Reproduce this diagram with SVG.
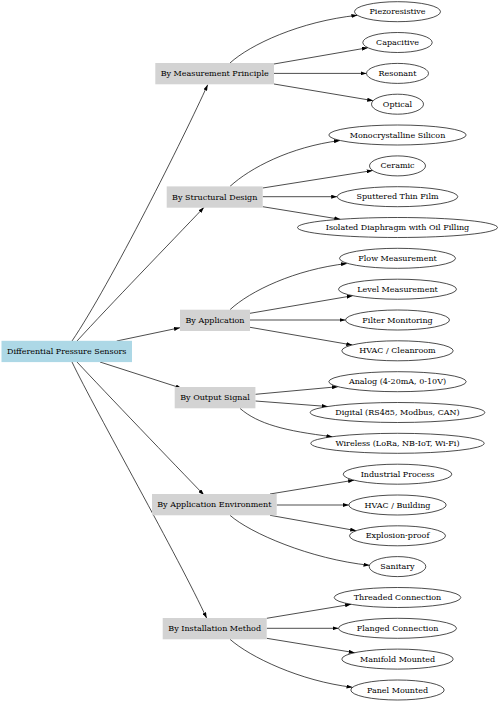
<svg xmlns="http://www.w3.org/2000/svg" width="500" height="703" viewBox="0 0 500 703">
<defs>
<style>
.bg{fill:#ffffff}
.root rect{fill:#add8e6;stroke:none}
.cat rect{fill:#d3d3d3;stroke:none}
.leaf ellipse{fill:#ffffff;stroke:#000;stroke-width:0.7}
text{font-family:"DejaVu Serif","Liberation Serif",serif;font-size:8px;fill:#000;text-anchor:middle;dominant-baseline:central}
#edges path{fill:none;stroke:#000;stroke-width:0.7;marker-end:url(#arr)}
</style>
<marker id="arr" markerUnits="userSpaceOnUse" markerWidth="6" markerHeight="4" refX="6" refY="2" orient="auto">
<path d="M0,0 L6,2 L0,4 z" fill="#000"/>
</marker>
</defs>
<rect class="bg" x="0" y="0" width="500" height="703"/>
<g id="edges">
<path d="M72,341 C110,285 185,135 207.7,84.7"/>
<path d="M77,341 C110,305 170,243 204,207.3"/>
<path d="M116.7,341 L180,327.7"/>
<path d="M100,362 L181.7,388.3"/>
<path d="M77,362 C105,392 175,465 204,495"/>
<path d="M72,362 C95,410 180,560 206.7,618.3"/>
<path d="M230,63 C250,44.7 300,21.3 357.4,15.3"/>
<path d="M274,64 L367.9,47.7"/>
<path d="M274,73.4 L366.5,73.4"/>
<path d="M274,84 L373.2,100.7"/>
<path d="M230,186.4 C250,168 290,147 340,140.5"/>
<path d="M262.7,188 L372.7,170.5"/>
<path d="M262.7,196.7 L337.2,196.7"/>
<path d="M262.7,206.7 L340.3,219.3"/>
<path d="M230,309.7 C250,291 295,269.5 347,263.5"/>
<path d="M250,313.3 L352.7,295.7"/>
<path d="M250,320 L345.5,320"/>
<path d="M250,327.3 L352.3,345"/>
<path d="M255.4,394.3 L338,386.7"/>
<path d="M255.4,401 L327.7,406.5"/>
<path d="M240,408.4 C258,424 285,431 332.4,436.7"/>
<path d="M270,494 L354.1,480.15"/>
<path d="M276.7,505 L348.8,505"/>
<path d="M270,515.3 L356.2,530.7"/>
<path d="M230,515.3 C250,533 310,559 369.5,565.3"/>
<path d="M266.7,618.3 L351.1,604.3"/>
<path d="M266.7,628.3 L338.5,628.3"/>
<path d="M266.7,638.3 L354.7,652.7"/>
<path d="M230,639.3 C250,657 300,681 352.5,687.3"/>
</g>
<g id="root" class="root"><rect x="1.5" y="340.8" width="130.5" height="21.3"/><text x="66.7" y="351.5">Differential Pressure Sensors</text></g>
<g id="cat-measurement" class="cat"><rect x="155.3" y="63" width="118.7" height="21.3"/><text x="214.7" y="73.7">By Measurement Principle</text></g>
<g id="cat-structural" class="cat"><rect x="166.7" y="186.4" width="96" height="21.3"/><text x="214.7" y="197">By Structural Design</text></g>
<g id="cat-application" class="cat"><rect x="180" y="309.7" width="70" height="21.3"/><text x="215" y="320.3">By Application</text></g>
<g id="cat-output" class="cat"><rect x="174.7" y="387" width="80.7" height="21.3"/><text x="215" y="397.7">By Output Signal</text></g>
<g id="cat-environment" class="cat"><rect x="152" y="494" width="124.7" height="21.3"/><text x="214.3" y="504.7">By Application Environment</text></g>
<g id="cat-installation" class="cat"><rect x="162.7" y="618" width="104" height="21.3"/><text x="214.7" y="628.7">By Installation Method</text></g>
<g id="leaf-piezoresistive" class="leaf"><ellipse cx="397.5" cy="11.7" rx="43" ry="10"/><text x="397.5" y="11.7">Piezoresistive</text></g>
<g id="leaf-capacitive" class="leaf"><ellipse cx="397.5" cy="42.5" rx="34.7" ry="10"/><text x="397.5" y="42.5">Capacitive</text></g>
<g id="leaf-resonant" class="leaf"><ellipse cx="397.5" cy="73.4" rx="31" ry="10"/><text x="397.5" y="73.4">Resonant</text></g>
<g id="leaf-optical" class="leaf"><ellipse cx="397.5" cy="104.2" rx="26" ry="10"/><text x="397.5" y="104.2">Optical</text></g>
<g id="leaf-mono" class="leaf"><ellipse cx="397.5" cy="135" rx="68.7" ry="10"/><text x="397.5" y="135">Monocrystalline Silicon</text></g>
<g id="leaf-ceramic" class="leaf"><ellipse cx="397.5" cy="165.9" rx="28" ry="10"/><text x="397.5" y="165.9">Ceramic</text></g>
<g id="leaf-sputtered" class="leaf"><ellipse cx="397.5" cy="196.7" rx="60.3" ry="10"/><text x="397.5" y="196.7">Sputtered Thin Film</text></g>
<g id="leaf-isolated" class="leaf"><ellipse cx="397.5" cy="227.5" rx="100" ry="10"/><text x="397.5" y="227.5">Isolated Diaphragm with Oil Filling</text></g>
<g id="leaf-flow" class="leaf"><ellipse cx="397.5" cy="258.3" rx="58" ry="10"/><text x="397.5" y="258.3">Flow Measurement</text></g>
<g id="leaf-level" class="leaf"><ellipse cx="397.5" cy="289.2" rx="59" ry="10"/><text x="397.5" y="289.2">Level Measurement</text></g>
<g id="leaf-filter" class="leaf"><ellipse cx="397.5" cy="320" rx="52" ry="10"/><text x="397.5" y="320">Filter Monitoring</text></g>
<g id="leaf-hvac-clean" class="leaf"><ellipse cx="397.5" cy="350.8" rx="55.7" ry="10"/><text x="397.5" y="350.8">HVAC / Cleanroom</text></g>
<g id="leaf-analog" class="leaf"><ellipse cx="397.5" cy="381.7" rx="68.7" ry="10"/><text x="397.5" y="381.7">Analog (4-20mA, 0-10V)</text></g>
<g id="leaf-digital" class="leaf"><ellipse cx="397.5" cy="412.5" rx="87.3" ry="10"/><text x="397.5" y="412.5">Digital (RS485, Modbus, CAN)</text></g>
<g id="leaf-wireless" class="leaf"><ellipse cx="397.5" cy="443.3" rx="86.7" ry="10"/><text x="397.5" y="443.3">Wireless (LoRa, NB-IoT, Wi-Fi)</text></g>
<g id="leaf-industrial" class="leaf"><ellipse cx="397.5" cy="474.2" rx="54.3" ry="10"/><text x="397.5" y="474.2">Industrial Process</text></g>
<g id="leaf-hvac-building" class="leaf"><ellipse cx="397.5" cy="505" rx="48.7" ry="10"/><text x="397.5" y="505">HVAC / Building</text></g>
<g id="leaf-explosion" class="leaf"><ellipse cx="397.5" cy="535.8" rx="48" ry="10"/><text x="397.5" y="535.8">Explosion-proof</text></g>
<g id="leaf-sanitary" class="leaf"><ellipse cx="397.5" cy="566.6" rx="28.3" ry="10"/><text x="397.5" y="566.6">Sanitary</text></g>
<g id="leaf-threaded" class="leaf"><ellipse cx="397.5" cy="597.5" rx="63.3" ry="10"/><text x="397.5" y="597.5">Threaded Connection</text></g>
<g id="leaf-flanged" class="leaf"><ellipse cx="397.5" cy="628.3" rx="59" ry="10"/><text x="397.5" y="628.3">Flanged Connection</text></g>
<g id="leaf-manifold" class="leaf"><ellipse cx="397.5" cy="659.1" rx="55.7" ry="10"/><text x="397.5" y="659.1">Manifold Mounted</text></g>
<g id="leaf-panel" class="leaf"><ellipse cx="397.5" cy="690" rx="46.7" ry="10"/><text x="397.5" y="690">Panel Mounted</text></g>
</svg>
